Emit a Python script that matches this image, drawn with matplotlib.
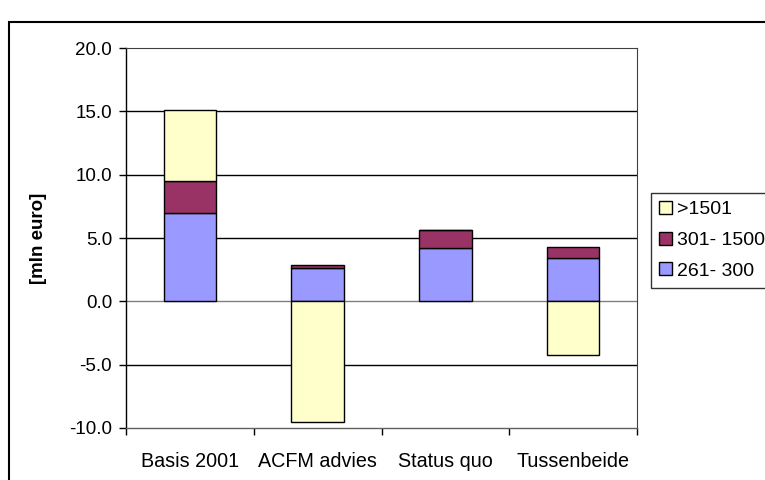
import matplotlib
matplotlib.use("Agg")
import matplotlib.pyplot as plt
from matplotlib.patches import Rectangle
import numpy as np

plt.rcParams['font.family'] = ['Liberation Sans', 'DejaVu Sans']

categories = ["Basis 2001", "ACFM advies", "Status quo", "Tussenbeide"]
s_261_300 = [7.0, 2.6, 4.2, 3.4]
s_301_1500 = [2.5, 0.3, 1.4, 0.9]
s_1501 = [5.6, -9.5, 0.0, -4.2]
series_labels = [">1501", "301- 1500", "261- 300"]
yticks = [-10, -5, 0, 5, 10, 15, 20]

FS = 13.5

fig = plt.figure(figsize=(7.65, 4.8), dpi=100)
ax = fig.add_axes([126/765, 1-428/480, (637-126)/765, (428-48)/480])

x = np.arange(len(categories))
w = 0.41
c_blue, c_purple, c_yellow = "#9999FF", "#993366", "#FFFFCC"

b1 = ax.bar(x, s_261_300, w, color=c_blue, edgecolor="black", linewidth=1, zorder=3)
b2 = ax.bar(x, s_301_1500, w, bottom=s_261_300, color=c_purple, edgecolor="black", linewidth=1, zorder=3)
pos_bottom = [a + b for a, b in zip(s_261_300, s_301_1500)]
bottoms3 = [pb if v >= 0 else 0 for pb, v in zip(pos_bottom, s_1501)]
b3 = ax.bar(x, s_1501, w, bottom=bottoms3, color=c_yellow, edgecolor="black", linewidth=1, zorder=3)

ax.set_xlim(-0.5, len(categories) - 0.5)
ax.set_ylim(-10, 20)
ax.set_yticks(yticks)
ax.set_yticklabels([f"{v:.1f}" for v in yticks], fontsize=FS)
ax.set_xticks(x)
ax.set_xticklabels(categories, fontsize=14.2)
ax.tick_params(axis='x', length=0, pad=17)
ax.set_xticks(np.arange(-0.5, len(categories)), minor=True)
ax.tick_params(axis='x', which='minor', length=5, direction='out', width=1)
ax.tick_params(axis='y', length=5, direction='out', width=1, pad=5)

for yv in yticks[1:-1]:
    ax.axhline(yv, color="black" if yv != 0 else "#808080", linewidth=1, zorder=1)

for s in ['left', 'bottom']:
    ax.spines[s].set_color('black')
    ax.spines[s].set_linewidth(1)
ax.spines['top'].set_color('#404040')
ax.spines['right'].set_color('#404040')
ax.spines['bottom'].set_color('#606060')

ax.set_ylabel("[mln euro]", fontsize=FS, fontweight='bold', labelpad=16)

leg = ax.legend([b3, b2, b1], series_labels, loc='upper left',
                bbox_to_anchor=(651/765, 1-193/480), bbox_transform=fig.transFigure,
                fontsize=14, frameon=True, fancybox=False, edgecolor='black',
                handlelength=0.65, handleheight=0.65, handletextpad=0.25,
                labelspacing=0.68, borderpad=0.42, borderaxespad=0)
leg.get_frame().set_linewidth(1)

fig.patches.append(Rectangle((9/765, -0.1), 1.2, 1-22/480 + 0.1, transform=fig.transFigure,
                             fill=False, edgecolor='black', linewidth=1.5))

fig.savefig("out.png", dpi=100)
